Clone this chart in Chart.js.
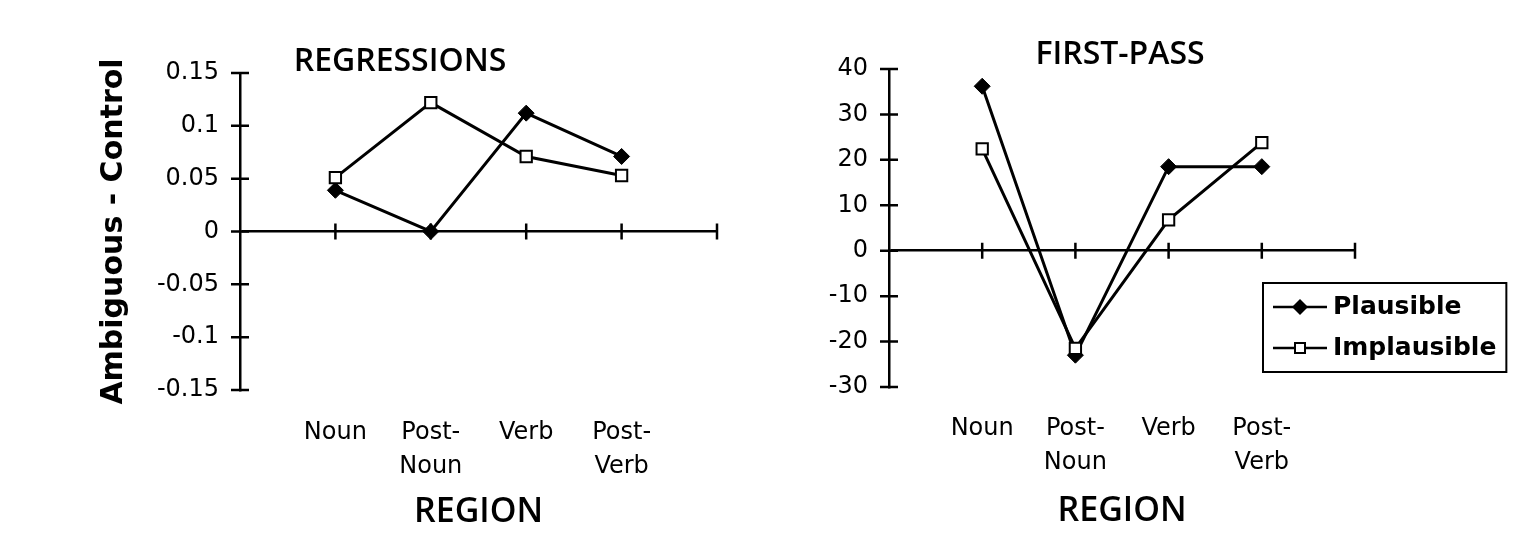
<!DOCTYPE html>
<html>
<head>
<meta charset="utf-8">
<script src="https://cdn.jsdelivr.net/npm/chart.js@4.4.1/dist/chart.umd.min.js"></script>
<style>
  html, body { margin: 0; padding: 0; background: #fff; }
  .panel { position: absolute; top: 0; }
</style>
</head>
<body>
<div class="panel" style="left:0;width:760px;height:542px"><canvas id="reg" width="760" height="542"></canvas></div>
<div class="panel" style="left:760px;width:757px;height:542px"><canvas id="fp" width="757" height="542"></canvas></div>
<script>
// ---------- data ----------
const regions = ['Noun', 'Post-Noun', 'Verb', 'Post-Verb'];
const regionTickLabels = ['Noun', ['Post-', 'Noun'], 'Verb', ['Post-', 'Verb']];
const seriesNames = ['Plausible', 'Implausible'];

const regPlausible   = [0.039, 0.0, 0.112, 0.071];
const regImplausible = [0.051, 0.122, 0.071, 0.053];
const regYTicks = ['-0.15', '-0.1', '-0.05', '0', '0.05', '0.1', '0.15'];

const fpPlausible   = [36.2, -23.0, 18.5, 18.5];
const fpImplausible = [22.4, -21.5, 6.8, 23.8];
const fpYTicks = ['-30', '-20', '-10', '0', '10', '20', '30', '40'];

// ---------- helpers ----------
function toPoints(values) { return values.map((v, i) => ({ x: i + 1, y: v })); }

function legendGlyph(kind) {
  const c = document.createElement('canvas');
  c.width = 54; c.height = 24;
  const g = c.getContext('2d');
  g.strokeStyle = '#000'; g.lineWidth = 2.5;
  g.beginPath(); g.moveTo(0, 12); g.lineTo(54, 12); g.stroke();
  if (kind === 'diamond') {
    g.fillStyle = '#000';
    g.beginPath(); g.moveTo(27, 4); g.lineTo(35, 12); g.lineTo(27, 20); g.lineTo(19, 12); g.closePath(); g.fill();
  } else {
    g.fillStyle = '#fff'; g.lineWidth = 2;
    g.fillRect(22, 7, 10, 10); g.strokeRect(22, 7, 10, 10);
  }
  return c;
}
const glyphs = [legendGlyph('diamond'), legendGlyph('square')];

const crossTicks = {
  id: 'crossTicks',
  beforeDatasetsDraw(chart) {
    const { ctx } = chart;
    const xs = chart.scales.x, ys = chart.scales.y;
    const y0 = ys.getPixelForValue(0), ax = ys.right;
    ctx.save();
    ctx.strokeStyle = '#000'; ctx.lineWidth = 2.5;
    ctx.beginPath();
    xs.ticks.forEach(t => {
      if (t.value <= xs.min) return;
      const px = xs.getPixelForValue(t.value);
      ctx.moveTo(px, y0 - 8); ctx.lineTo(px, y0 + 8);
    });
    ys.ticks.forEach(t => {
      const py = ys.getPixelForValue(t.value);
      ctx.moveTo(ax - 9, py); ctx.lineTo(ax + 9, py);
    });
    ctx.stroke();
    ctx.restore();
  }
};

const panelTitle = {
  id: 'panelTitle',
  afterDraw(chart, args, opts) {
    if (!opts || !opts.text) return;
    const { ctx, chartArea } = chart;
    ctx.save();
    ctx.font = opts.font;
    ctx.fillStyle = '#000';
    ctx.textAlign = 'center';
    ctx.textBaseline = 'middle';
    ctx.fillText(opts.text, chartArea.left + opts.dx, chartArea.top + opts.dy);
    ctx.restore();
  }
};

const legendPlacer = {
  id: 'legendPlacer',
  afterLayout(chart, args, opts) {
    const lg = chart.legend;
    if (!lg || !opts || !opts.enabled) return;
    const ca = chart.chartArea;
    lg.left = ca.right + opts.dx;
    lg.top = ca.top + opts.dy;
    lg.right = chart.width;
    lg.bottom = lg.top + 140;
    lg.width = lg.right - lg.left;
    lg.height = lg.bottom - lg.top;
  },
  afterDraw(chart, args, opts) {
    const lg = chart.legend;
    if (!lg || !opts || !opts.enabled || !lg.legendHitBoxes || !lg.legendHitBoxes.length) return;
    const hb = lg.legendHitBoxes;
    const l = Math.min(...hb.map(h => h.left));
    const t = Math.min(...hb.map(h => h.top));
    const r = Math.max(...hb.map(h => h.left + h.width));
    const b = Math.max(...hb.map(h => h.top + h.height));
    const { ctx } = chart;
    ctx.save();
    ctx.strokeStyle = '#000'; ctx.lineWidth = 2;
    ctx.strokeRect(l - 16.5, t - 11.5, (r - l) + 16.5 + 10, (b - t) + 23);
    ctx.restore();
  }
};

function makeDatasets(pl, im) {
  return [
    {
      label: seriesNames[0], data: toPoints(pl), order: 1,
      borderColor: '#000', borderWidth: 3, fill: false, tension: 0,
      pointStyle: 'rectRot', pointRadius: 8, pointHoverRadius: 8,
      pointBackgroundColor: '#000', pointBorderColor: '#000', pointBorderWidth: 1
    },
    {
      label: seriesNames[1], data: toPoints(im), order: 0,
      borderColor: '#000', borderWidth: 3, fill: false, tension: 0,
      pointStyle: 'rect', pointRadius: 8, pointHoverRadius: 8,
      pointBackgroundColor: '#fff', pointBorderColor: '#000', pointBorderWidth: 2
    }
  ];
}

function makeOptions(cfg) {
  return {
    responsive: false,
    animation: false,
    devicePixelRatio: 1,
    layout: { padding: cfg.padding },
    scales: {
      x: {
        type: 'linear', position: 'bottom', min: 0, max: 5,
        afterBuildTicks: (s) => { s.ticks = [0, 1, 2, 3, 4, 5].map(v => ({ value: v })); },
        ticks: {
          stepSize: 1, autoSkip: false, maxRotation: 0, minRotation: 0,
          padding: cfg.xPad, color: '#000',
          font: { family: 'DejaVu Sans', size: 24, lineHeight: 1.45 },
          callback: (v) => (v >= 1 && v <= regions.length) ? regionTickLabels[v - 1] : ''
        },
        grid: { display: false, drawTicks: false },
        border: { display: false },
        title: {
          display: true, text: 'REGION', color: '#000',
          font: { family: 'Open Sans', size: 34, weight: '600', lineHeight: 1.2 },
          padding: { top: 0, bottom: cfg.titlePadBottom }
        },
        afterFit: (s) => { s.height = cfg.xHeight; }
      },
      y: {
        type: 'linear', position: 'left', min: cfg.yMin, max: cfg.yMax,
        ticks: {
          stepSize: cfg.yStep, padding: 21, color: '#000',
          font: { family: 'DejaVu Sans', size: 24 },
          callback: (v, i) => cfg.yLabels[i]
        },
        grid: {
          drawTicks: false, lineWidth: 2.5,
          color: (c) => (c.tick && Math.abs(c.tick.value) < 1e-9) ? '#000' : 'rgba(0,0,0,0)'
        },
        border: { display: true, color: '#000', width: 2.5 },
        title: cfg.yTitle ? {
          display: true, text: cfg.yTitle, color: '#000', padding: 0,
          font: { family: 'DejaVu Sans', size: 30, weight: 'bold', lineHeight: 1.2 }
        } : { display: false },
        afterFit: (s) => { s.width = cfg.yWidth; }
      }
    },
    plugins: {
      tooltip: { enabled: false },
      title: { display: false },
      panelTitle: cfg.panelTitle,
      legendPlacer: cfg.legendPlacer || { enabled: false },
      legend: cfg.legend ? {
        display: true, position: 'chartArea', align: 'start',
        labels: {
          usePointStyle: true, pointStyleWidth: 41, padding: 16, color: '#000',
          font: { family: 'DejaVu Sans', size: 25, weight: 'bold' },
          generateLabels: (chart) => chart.data.datasets.map((ds, i) => ({
            text: ds.label, datasetIndex: i, pointStyle: glyphs[i],
            fillStyle: '#000', strokeStyle: '#000', lineWidth: 0, hidden: false, fontColor: '#000'
          }))
        }
      } : { display: false }
    }
  };
}

new Chart(document.getElementById('reg'), {
  type: 'line',
  data: { datasets: makeDatasets(regPlausible, regImplausible) },
  options: makeOptions({
    padding: { left: 96, right: 43, top: 73, bottom: 0 },
    xPad: 25, xHeight: 152, titlePadBottom: 9,
    yMin: -0.15, yMax: 0.15, yStep: 0.05, yLabels: regYTicks, yWidth: 144,
    yTitle: 'Ambiguous - Control',
    panelTitle: { text: 'REGRESSIONS', font: '600 32px "Open Sans"', dx: 160, dy: -11 },
    legend: false
  }),
  plugins: [crossTicks, panelTitle, legendPlacer]
});

new Chart(document.getElementById('fp'), {
  type: 'line',
  data: { datasets: makeDatasets(fpPlausible, fpImplausible) },
  options: makeOptions({
    padding: { left: 0, right: 162, top: 69, bottom: 0 },
    xPad: 24, xHeight: 155, titlePadBottom: 10,
    yMin: -30, yMax: 40, yStep: 10, yLabels: fpYTicks, yWidth: 129,
    yTitle: null,
    panelTitle: { text: 'FIRST-PASS', font: '600 32px "Open Sans"', dx: 231, dy: -14 },
    legend: true,
    legendPlacer: { enabled: true, dx: -91.5, dy: 209.5 }
  }),
  plugins: [crossTicks, panelTitle, legendPlacer]
});
</script>
</body>
</html>
